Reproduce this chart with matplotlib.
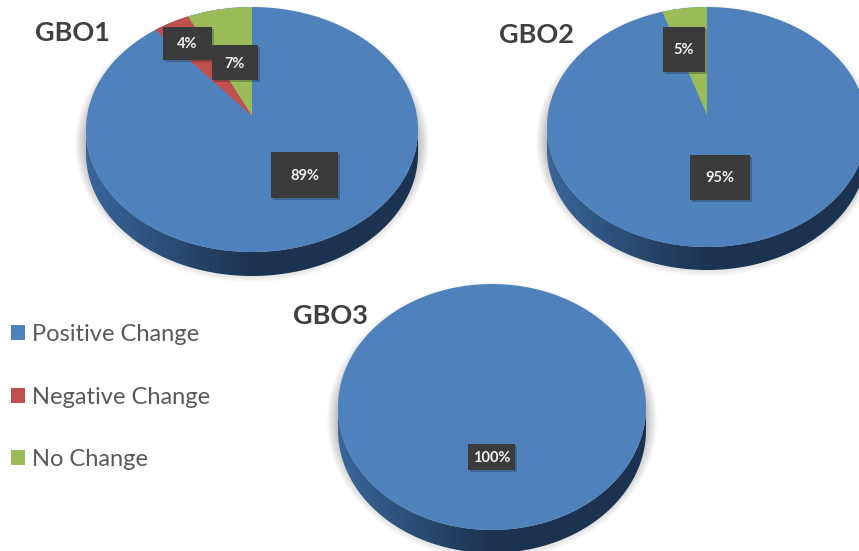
import numpy as np
import matplotlib
matplotlib.use("Agg")
import matplotlib.pyplot as plt
from matplotlib.patches import Polygon, Rectangle, Patch
import matplotlib.patheffects as pe

categories = ["Positive Change", "Negative Change", "No Change"]
gbo1_values = [89, 4, 7]
gbo2_values = [95, 0, 5]
gbo3_values = [100, 0, 0]
titles = ["GBO1", "GBO2", "GBO3"]

colors = ["#4f81bd", "#c0504d", "#9bbb59"]
plt.rcParams["font.family"] = ["Lato", "DejaVu Sans"]

W, H = 859, 551
fig = plt.figure(figsize=(W / 100, H / 100), dpi=100)
ax = fig.add_axes([0, 0, 1, 1])
ax.set_axis_off()

# layout: cx, cy, a, b, apex_y, depth
layouts = [
    (252, 129.5, 166, 122.5, 116, 24),
    (707, 127, 160, 120, 115, 23),
    (492, 407, 154, 123, 407, 23),
]
title_pos = [(73, 33), (536, 35), (330, 316)]
# label box x0, y0, x1, y1 for each non-zero slice
boxes = [
    {0: (271, 152, 338, 198), 1: (163, 27, 212, 60), 2: (212, 45, 258, 80)},
    {0: (690, 155, 750, 200), 2: (663, 27, 705, 72)},
    {0: (468, 444, 515, 470)},
]


def ell(cx, cy, a, b, t):
    return np.column_stack([cx + a * np.sin(t), cy - b * np.cos(t)])


def draw_pie(values, layout, box):
    cx, cy, a, b, apex, depth = layout
    t = np.linspace(0, 2 * np.pi, 361)
    # soft shadow
    for s in np.linspace(16, 1, 16):
        ax.add_patch(Polygon(ell(cx, cy + depth * 0.6, a + s * 0.7, b + s, t),
                             fc="#000000", ec="none", alpha=0.016, zorder=1))
    # side wall with gradient
    tt = np.linspace(np.pi / 2, 3 * np.pi / 2, 181)
    lower = ell(cx, cy, a, b, tt)
    wall = np.vstack([lower, (lower + [0, depth])[::-1]])
    clip = Polygon(wall, fc="none", ec="none", zorder=2)
    ax.add_patch(clip)
    g = np.interp(np.linspace(0, 1, 256), [0, 0.5, 1], [0, 1, 1])
    c0, c1 = np.array([0x3a, 0x66, 0x9a]) / 255, np.array([0x1b, 0x33, 0x50]) / 255
    img = (c0[None, :] * (1 - g[:, None]) + c1[None, :] * g[:, None])[None, :, :]
    im = ax.imshow(img, extent=(cx - a, cx + a, cy + b + depth + 2, cy), aspect="auto", zorder=2)
    im.set_clip_path(clip)

    # top face: slices go counter-clockwise from 12 o'clock, reversed order of series
    ax.add_patch(Polygon(ell(cx, cy, a, b, t), fc=colors[0], ec="none", zorder=3))
    start = 0.0
    total = sum(values)
    for i in (2, 1):
        v = values[i]
        if v == 0:
            continue
        end = start + v / total * 2 * np.pi
        arc = np.linspace(start, end, 40) * 0.9
        pts = ell(cx, cy, a, b, -arc)
        ax.add_patch(Polygon(np.vstack([[cx, apex], pts]), fc=colors[i], ec="none", zorder=4))
        start = end
    # value labels
    for i, (x0, y0, x1, y1) in box.items():
        ax.add_patch(Rectangle((x0, y0), x1 - x0, y1 - y0, fc="#3b3b3b", ec="none", zorder=6,
                               path_effects=[pe.SimplePatchShadow(offset=(1.5, -1.5), alpha=0.25), pe.Normal()]))
        ax.text((x0 + x1) / 2, (y0 + y1) / 2 + 1, f"{values[i]}%", color="#f2f2f2", fontsize=10.5,
                fontweight="bold", ha="center", va="center", zorder=7)


for vals, lay, box in zip([gbo1_values, gbo2_values, gbo3_values], layouts, boxes):
    draw_pie(vals, lay, box)

for name, (x, y) in zip(titles, title_pos):
    ax.text(x, y, name, fontsize=19.5, fontweight="bold", color="#404040", ha="center", va="center", zorder=8)

handles = [Patch(fc=c, ec="none") for c in colors]
ax.legend(handles, categories, loc="upper left", bbox_to_anchor=(4 / W, 1 - 317 / H), frameon=False,
          fontsize=17, labelcolor="#595959", labelspacing=1.76, handlelength=0.6, handleheight=0.6,
          handletextpad=0.3, borderaxespad=0, borderpad=0.3)

ax.set_xlim(0, W)
ax.set_ylim(H, 0)
fig.savefig("out.png", dpi=100)
